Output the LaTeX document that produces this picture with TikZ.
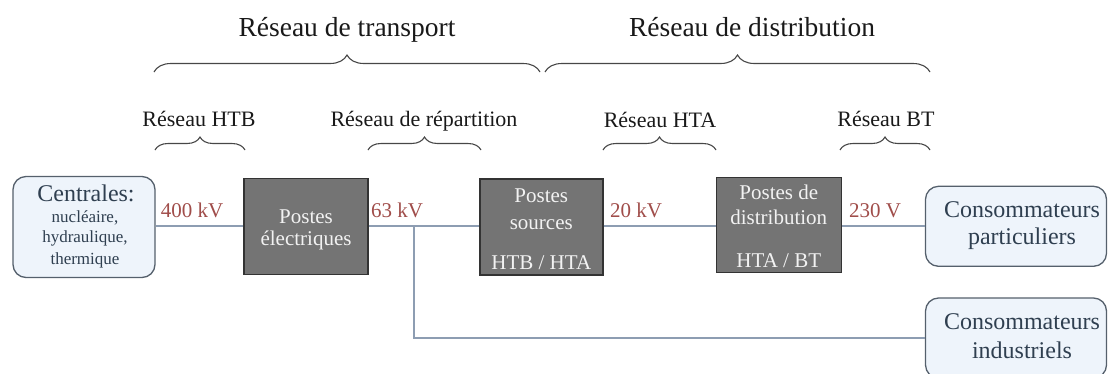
\documentclass[tikz,border=0pt]{standalone}
\usepackage{fontspec}
\setmainfont{Liberation Serif}
\newfontfamily\mainserif{Liberation Serif}
\usetikzlibrary{decorations.pathreplacing}
\definecolor{boxgray}{HTML}{747474}
\definecolor{boxedge}{HTML}{333333}
\definecolor{softfill}{HTML}{EEF4FB}
\definecolor{softedge}{HTML}{55606C}
\definecolor{softtext}{HTML}{2F3F50}
\definecolor{wirecol}{HTML}{8D9DB2}
\definecolor{voltcol}{HTML}{A04D4A}
\definecolor{bracecol}{HTML}{474747}
\newcommand\myfs[1]{\mainserif\fontsize{#1}{#1}\selectfont}
\begin{document}
\begin{tikzpicture}[x=1pt,y=-1pt,
  graybox/.style={draw=boxedge,line width=1.5pt,fill=boxgray,inner sep=0pt},
  softbox/.style={draw=softedge,line width=1.3pt,fill=softfill,rounded corners=13pt,inner sep=0pt},
  whitetxt/.style={anchor=base,inner sep=0pt,text=white!95!black,font=\myfs{21}},
  softtxt/.style={anchor=base,inner sep=0pt,text=softtext},
  volt/.style={anchor=base,inner sep=0pt,text=voltcol,font=\myfs{21}},
  title/.style={anchor=base,inner sep=0pt,text=black!90,font=\myfs{27.5}},
  sublabel/.style={anchor=base,inner sep=0pt,text=black!90,font=\myfs{22}},
  wire/.style={draw=wirecol,line width=2pt},
  bigbrace/.style={draw=bracecol,line width=1.1pt,decorate,decoration={brace,amplitude=17pt,aspect=0.5}},
  smallbrace/.style={draw=bracecol,line width=1.1pt,decorate,decoration={brace,amplitude=13pt,aspect=0.5}}]
\useasboundingbox (0,0) rectangle (1108,373);

% titles and braces
\node[title] (tt) at (347,36) {Réseau de transport};
\node[title] (td) at (752,36) {Réseau de distribution};
\draw[bigbrace] (154,72) -- (540,72);
\draw[bigbrace] (545,72) -- (930,72);

\node[sublabel] (lhtb) at (199,126) {Réseau HTB};
\node[sublabel] (lrep) at (424,126) {Réseau de répartition};
\node[sublabel] (lhta) at (660,127) {Réseau HTA};
\node[sublabel] (lbt) at (886,126) {Réseau BT};
\draw[smallbrace] (155,150) -- (245,150);
\draw[smallbrace] (368,150) -- (481,150);
\draw[smallbrace] (603,150) -- (716,150);
\draw[smallbrace] (840,150) -- (930,150);

% boxes
\node[softbox,minimum width=142pt,minimum height=101pt] (cen) at (84,227) {};
\node[graybox,minimum width=124pt,minimum height=96pt] (pe) at (306,226.3) {};
\node[graybox,minimum width=123pt,minimum height=96pt] (ps) at (541.3,227.2) {};
\node[graybox,minimum width=125pt,minimum height=95pt] (pd) at (778.8,225) {};
\node[softbox,minimum width=181pt,minimum height=80pt] (cp) at (1016,226.3) {};
\node[softbox,minimum width=181pt,minimum height=80pt] (ci) at (1016,338) {};

% box texts
\node[softtxt,font=\myfs{24}] (c1) at (86,201) {Centrales:};
\node[softtxt,font=\myfs{17}] (c2) at (85,222) {nucléaire,};
\node[softtxt,font=\myfs{17}] (c3) at (85,242.5) {hydraulique,};
\node[softtxt,font=\myfs{17}] (c4) at (85,264) {thermique};

\node[whitetxt] (pe1) at (306,223) {Postes};
\node[whitetxt] (pe2) at (306,245) {électriques};

\node[whitetxt] (ps1) at (541.3,202.3) {Postes};
\node[whitetxt] (ps2) at (541.3,229) {sources};
\node[whitetxt] (ps3) at (541.3,269.3) {HTB / HTA};

\node[whitetxt] (pd1) at (778.8,199.3) {Postes de};
\node[whitetxt] (pd2) at (778.8,224.3) {distribution};
\node[whitetxt] (pd3) at (778.8,267.7) {HTA / BT};

\node[softtxt,font=\myfs{24}] (cp1) at (1022,217.7) {Consommateurs};
\node[softtxt,font=\myfs{24}] (cp2) at (1022,244.5) {particuliers};
\node[softtxt,font=\myfs{24}] (ci1) at (1022,329.3) {Consommateurs};
\node[softtxt,font=\myfs{24}] (ci2) at (1022,358.3) {industriels};

% voltages
\node[volt] (v1) at (192,217.7) {400 kV};
\node[volt] (v2) at (397,217.7) {63 kV};
\node[volt] (v3) at (636,217.7) {20 kV};
\node[volt] (v4) at (875,217.7) {230 V};

% wires
\coordinate (lineL) at (0,226);
\draw[wire] (cen.east |- lineL) -- (pe.west |- lineL);
\draw[wire] (pe.east |- lineL) -- (ps.west |- lineL);
\draw[wire] (ps.east |- lineL) -- (pd.west |- lineL);
\draw[wire] (pd.east |- lineL) -- (cp.west |- lineL);
\coordinate (br) at (414.3,226);
\draw[wire] (br) |- (ci.west);
\end{tikzpicture}
\end{document}
